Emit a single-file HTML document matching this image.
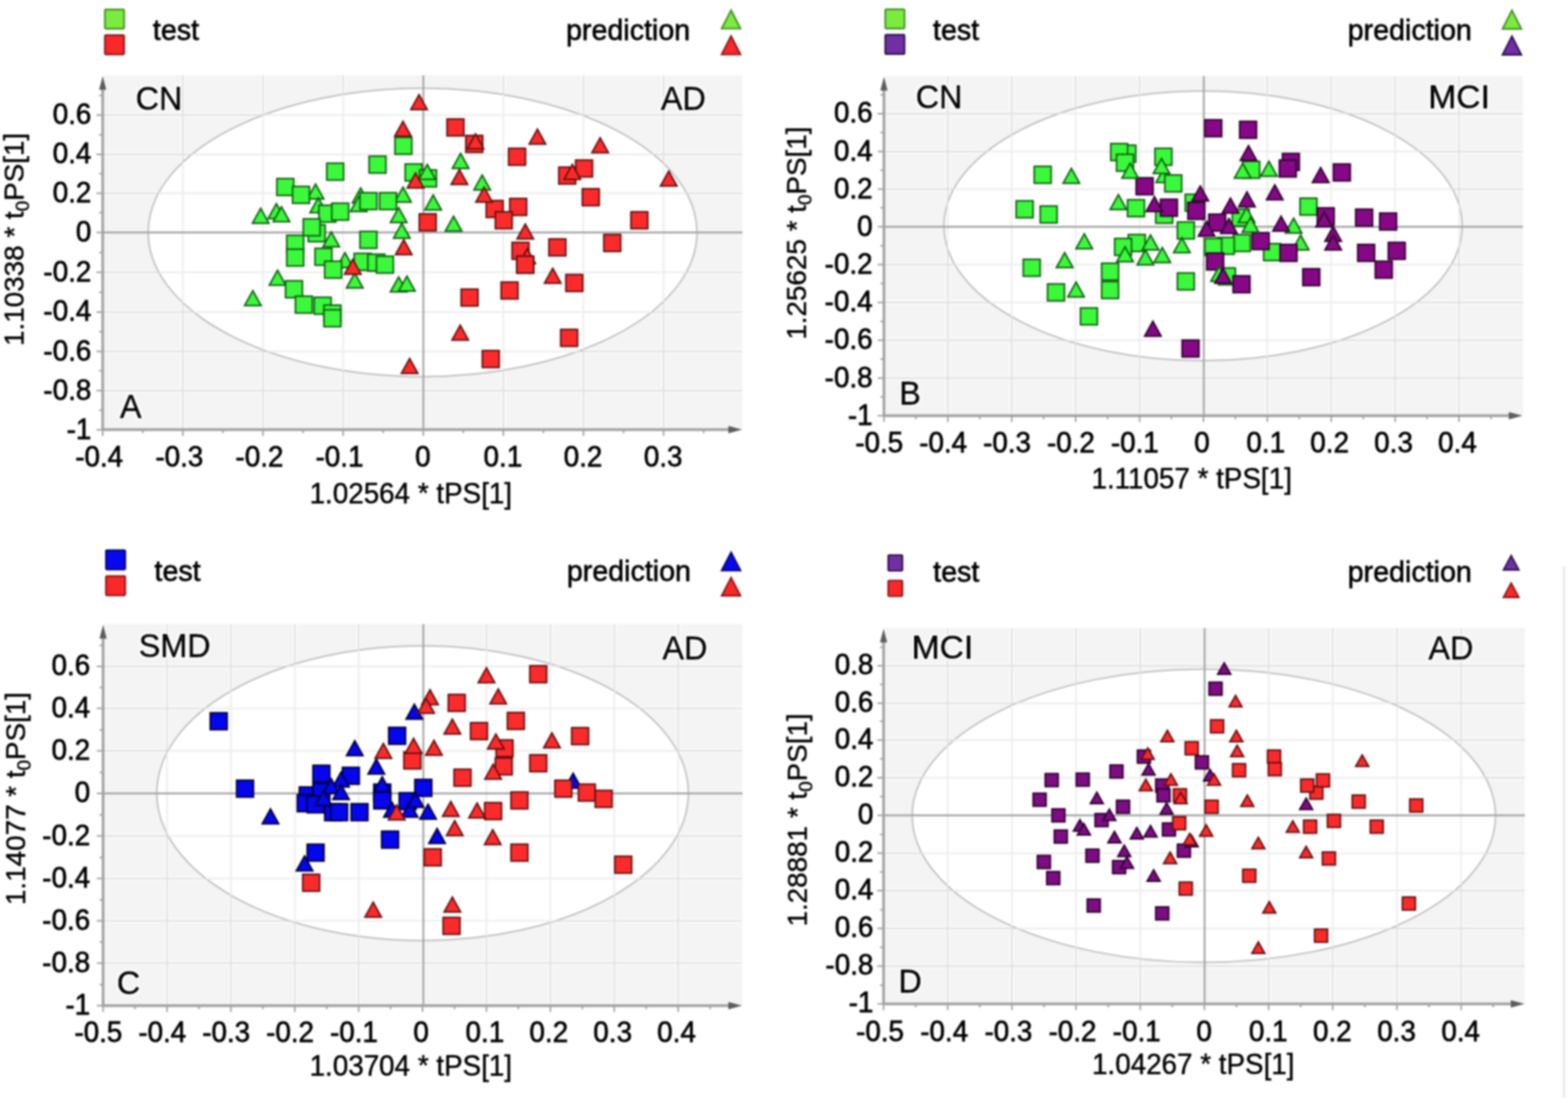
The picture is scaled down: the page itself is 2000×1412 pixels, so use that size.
<!DOCTYPE html>
<html lang="en"><head><meta charset="utf-8"><title>OPLS-DA score plots</title>
<style>html,body{margin:0;padding:0;background:#fff;}body{width:2000px;height:1412px;overflow:hidden;}svg{display:block;font-family:"Liberation Sans", sans-serif;filter:blur(0.8px);}</style></head><body>
<svg width="2000" height="1412" viewBox="0 0 2000 1412">
<defs><filter id="halo" x="-15%" y="-15%" width="130%" height="130%"><feMorphology in="SourceAlpha" operator="dilate" radius="2.4" result="d"/><feFlood flood-color="#fff" flood-opacity="0.92"/><feComposite in2="d" operator="in" result="h"/><feMerge><feMergeNode in="h"/><feMergeNode in="SourceGraphic"/></feMerge></filter></defs>
<rect width="2000" height="1412" fill="#fff"/>
<g id="panelA">
<rect x="131" y="96" width="816" height="452" fill="#f4f4f4"/>
<path d="M233.2,96V548M335.4,96V548M437.6,96V548M642.0,96V548M744.2,96V548M846.4,96V548M131,146.8H947M131,197.0H947M131,246.5H947M131,347.3H947M131,398.0H947M131,448.2H947M131,498.2H947" stroke="#ffffff" stroke-width="6" fill="none" opacity="0.6"/>
<path d="M233.2,96V548M335.4,96V548M437.6,96V548M642.0,96V548M744.2,96V548M846.4,96V548M131,146.8H947M131,197.0H947M131,246.5H947M131,347.3H947M131,398.0H947M131,448.2H947M131,498.2H947" stroke="#e3e3e3" stroke-width="2.4" fill="none"/>
<clipPath id="clipA"><ellipse cx="539" cy="296.5" rx="350" ry="184"/></clipPath>
<ellipse cx="539" cy="296.5" rx="350" ry="184" fill="#ffffff" stroke="#c0c0c0" stroke-width="2"/>
<path d="M233.2,96V548M335.4,96V548M437.6,96V548M642.0,96V548M744.2,96V548M846.4,96V548M131,146.8H947M131,197.0H947M131,246.5H947M131,347.3H947M131,398.0H947M131,448.2H947M131,498.2H947" stroke="#efefef" stroke-width="2.4" fill="none" clip-path="url(#clipA)"/>
<path d="M540,96V548M131,296.5H947" stroke="#a6a6a6" stroke-width="2.4" fill="none"/>
<path d="M131,110V548H933" stroke="#a2a2a2" stroke-width="3.4" fill="none"/>
<polygon points="131,97 135.6,114.5 126.4,114.5" fill="#5c5c5c"/>
<polygon points="946.5,548 929,543.2 929,552.8" fill="#5c5c5c"/>
<path d="M131.0,548v8M182.1,548v4.5M233.2,548v8M284.3,548v4.5M335.4,548v8M386.5,548v4.5M437.6,548v8M488.7,548v4.5M539.8,548v8M590.9,548v4.5M642.0,548v8M693.1,548v4.5M744.2,548v8M795.3,548v4.5M846.4,548v8M897.5,548v4.5M131,146.8h-8M131,121.7h-4.5M131,197.0h-8M131,171.9h-4.5M131,246.5h-8M131,221.4h-4.5M131,296.4h-8M131,271.3h-4.5M131,347.3h-8M131,322.2h-4.5M131,398.0h-8M131,372.9h-4.5M131,448.2h-8M131,423.1h-4.5M131,498.2h-8M131,473.1h-4.5M131,548.3h-8M131,523.2h-4.5" stroke="#a2a2a2" stroke-width="2" fill="none"/>
<text transform="translate(126.5,594.5) scale(0.972,1)" font-size="36.5" text-anchor="middle" fill="#000" stroke="#000" stroke-width="0.8" >-0.4</text>
<text transform="translate(228.7,594.5) scale(0.972,1)" font-size="36.5" text-anchor="middle" fill="#000" stroke="#000" stroke-width="0.8" >-0.3</text>
<text transform="translate(330.9,594.5) scale(0.972,1)" font-size="36.5" text-anchor="middle" fill="#000" stroke="#000" stroke-width="0.8" >-0.2</text>
<text transform="translate(433.1,594.5) scale(0.972,1)" font-size="36.5" text-anchor="middle" fill="#000" stroke="#000" stroke-width="0.8" >-0.1</text>
<text transform="translate(539.3,594.5) scale(0.972,1)" font-size="36.5" text-anchor="middle" fill="#000" stroke="#000" stroke-width="0.8" >0</text>
<text transform="translate(641.5,594.5) scale(0.972,1)" font-size="36.5" text-anchor="middle" fill="#000" stroke="#000" stroke-width="0.8" >0.1</text>
<text transform="translate(743.7,594.5) scale(0.972,1)" font-size="36.5" text-anchor="middle" fill="#000" stroke="#000" stroke-width="0.8" >0.2</text>
<text transform="translate(845.9,594.5) scale(0.972,1)" font-size="36.5" text-anchor="middle" fill="#000" stroke="#000" stroke-width="0.8" >0.3</text>
<text transform="translate(116.5,158.1) scale(0.972,1)" font-size="36.5" text-anchor="end" fill="#000" stroke="#000" stroke-width="0.8" >0.6</text>
<text transform="translate(116.5,208.3) scale(0.972,1)" font-size="36.5" text-anchor="end" fill="#000" stroke="#000" stroke-width="0.8" >0.4</text>
<text transform="translate(116.5,257.8) scale(0.972,1)" font-size="36.5" text-anchor="end" fill="#000" stroke="#000" stroke-width="0.8" >0.2</text>
<text transform="translate(116.5,307.7) scale(0.972,1)" font-size="36.5" text-anchor="end" fill="#000" stroke="#000" stroke-width="0.8" >0</text>
<text transform="translate(116.5,358.6) scale(0.972,1)" font-size="36.5" text-anchor="end" fill="#000" stroke="#000" stroke-width="0.8" >-0.2</text>
<text transform="translate(116.5,409.3) scale(0.972,1)" font-size="36.5" text-anchor="end" fill="#000" stroke="#000" stroke-width="0.8" >-0.4</text>
<text transform="translate(116.5,459.5) scale(0.972,1)" font-size="36.5" text-anchor="end" fill="#000" stroke="#000" stroke-width="0.8" >-0.6</text>
<text transform="translate(116.5,509.5) scale(0.972,1)" font-size="36.5" text-anchor="end" fill="#000" stroke="#000" stroke-width="0.8" >-0.8</text>
<text transform="translate(116.5,559.6) scale(0.972,1)" font-size="36.5" text-anchor="end" fill="#000" stroke="#000" stroke-width="0.8" >-1</text>
<text transform="translate(524.0,642.0) scale(0.985,1)" font-size="36" text-anchor="middle" fill="#000" stroke="#000" stroke-width="0.5" >1.02564 * tPS[1]</text>
<text transform="translate(30.3,305.3) rotate(-90) scale(1.0,1)" font-size="35.5" text-anchor="middle" fill="#000" stroke="#000" stroke-width="0.5">1.10338 * t<tspan font-size="24" dy="7">0</tspan><tspan dy="-7">PS[1]</tspan></text>
<text transform="translate(173.0,140.0) scale(0.965,1)" font-size="42.7" text-anchor="start" fill="#000" stroke="#000" stroke-width="1.0" filter="url(#halo)">CN</text>
<text transform="translate(843.0,140.0) scale(0.965,1)" font-size="42.7" text-anchor="start" fill="#000" stroke="#000" stroke-width="1.0" filter="url(#halo)">AD</text>
<text transform="translate(153.0,533.0) scale(0.965,1)" font-size="42.7" text-anchor="start" fill="#000" stroke="#000" stroke-width="1.0" filter="url(#halo)">A</text>
<polygon points="587.5,195.8 598.0,214.8 577.0,214.8" fill="#3bf83b" stroke="#0e5c0e" stroke-width="2.0" stroke-linejoin="miter"/>
<polygon points="615.0,223.3 625.5,242.3 604.5,242.3" fill="#3bf83b" stroke="#0e5c0e" stroke-width="2.0" stroke-linejoin="miter"/>
<polygon points="402.5,234.8 413.0,253.8 392.0,253.8" fill="#3bf83b" stroke="#0e5c0e" stroke-width="2.0" stroke-linejoin="miter"/>
<polygon points="514.0,238.8 524.5,257.8 503.5,257.8" fill="#3bf83b" stroke="#0e5c0e" stroke-width="2.0" stroke-linejoin="miter"/>
<polygon points="460.0,239.8 470.5,258.8 449.5,258.8" fill="#3bf83b" stroke="#0e5c0e" stroke-width="2.0" stroke-linejoin="miter"/>
<polygon points="552.5,248.8 563.0,267.8 542.0,267.8" fill="#3bf83b" stroke="#0e5c0e" stroke-width="2.0" stroke-linejoin="miter"/>
<polygon points="406.0,252.3 416.5,271.3 395.5,271.3" fill="#3bf83b" stroke="#0e5c0e" stroke-width="2.0" stroke-linejoin="miter"/>
<polygon points="457.5,250.8 468.0,269.8 447.0,269.8" fill="#3bf83b" stroke="#0e5c0e" stroke-width="2.0" stroke-linejoin="miter"/>
<polygon points="352.5,259.8 363.0,278.8 342.0,278.8" fill="#3bf83b" stroke="#0e5c0e" stroke-width="2.0" stroke-linejoin="miter"/>
<polygon points="359.0,263.8 369.5,282.8 348.5,282.8" fill="#3bf83b" stroke="#0e5c0e" stroke-width="2.0" stroke-linejoin="miter"/>
<polygon points="332.5,265.8 343.0,284.8 322.0,284.8" fill="#3bf83b" stroke="#0e5c0e" stroke-width="2.0" stroke-linejoin="miter"/>
<polygon points="508.5,264.8 519.0,283.8 498.0,283.8" fill="#3bf83b" stroke="#0e5c0e" stroke-width="2.0" stroke-linejoin="miter"/>
<polygon points="578.5,275.8 589.0,294.8 568.0,294.8" fill="#3bf83b" stroke="#0e5c0e" stroke-width="2.0" stroke-linejoin="miter"/>
<polygon points="512.5,284.8 523.0,303.8 502.0,303.8" fill="#3bf83b" stroke="#0e5c0e" stroke-width="2.0" stroke-linejoin="miter"/>
<polygon points="422.5,295.8 433.0,314.8 412.0,314.8" fill="#3bf83b" stroke="#0e5c0e" stroke-width="2.0" stroke-linejoin="miter"/>
<polygon points="440.0,322.3 450.5,341.3 429.5,341.3" fill="#3bf83b" stroke="#0e5c0e" stroke-width="2.0" stroke-linejoin="miter"/>
<polygon points="354.0,344.8 364.5,363.8 343.5,363.8" fill="#3bf83b" stroke="#0e5c0e" stroke-width="2.0" stroke-linejoin="miter"/>
<polygon points="452.5,348.3 463.0,367.3 442.0,367.3" fill="#3bf83b" stroke="#0e5c0e" stroke-width="2.0" stroke-linejoin="miter"/>
<polygon points="508.5,353.3 519.0,372.3 498.0,372.3" fill="#3bf83b" stroke="#0e5c0e" stroke-width="2.0" stroke-linejoin="miter"/>
<polygon points="519.0,352.3 529.5,371.3 508.5,371.3" fill="#3bf83b" stroke="#0e5c0e" stroke-width="2.0" stroke-linejoin="miter"/>
<polygon points="322.5,370.8 333.0,389.8 312.0,389.8" fill="#3bf83b" stroke="#0e5c0e" stroke-width="2.0" stroke-linejoin="miter"/>
<rect x="503.8" y="175.2" width="21.5" height="21.5" rx="0" fill="#3bf83b" stroke="#0e5c0e" stroke-width="2.0"/>
<rect x="470.8" y="199.2" width="21.5" height="21.5" rx="0" fill="#3bf83b" stroke="#0e5c0e" stroke-width="2.0"/>
<rect x="416.8" y="208.2" width="21.5" height="21.5" rx="0" fill="#3bf83b" stroke="#0e5c0e" stroke-width="2.0"/>
<rect x="516.8" y="209.2" width="21.5" height="21.5" rx="0" fill="#3bf83b" stroke="#0e5c0e" stroke-width="2.0"/>
<rect x="535.2" y="216.8" width="21.5" height="21.5" rx="0" fill="#3bf83b" stroke="#0e5c0e" stroke-width="2.0"/>
<rect x="353.2" y="227.8" width="21.5" height="21.5" rx="0" fill="#3bf83b" stroke="#0e5c0e" stroke-width="2.0"/>
<rect x="373.2" y="237.8" width="21.5" height="21.5" rx="0" fill="#3bf83b" stroke="#0e5c0e" stroke-width="2.0"/>
<rect x="459.2" y="245.8" width="21.5" height="21.5" rx="0" fill="#3bf83b" stroke="#0e5c0e" stroke-width="2.0"/>
<rect x="484.2" y="245.8" width="21.5" height="21.5" rx="0" fill="#3bf83b" stroke="#0e5c0e" stroke-width="2.0"/>
<rect x="406.8" y="261.8" width="21.5" height="21.5" rx="0" fill="#3bf83b" stroke="#0e5c0e" stroke-width="2.0"/>
<rect x="423.2" y="259.2" width="21.5" height="21.5" rx="0" fill="#3bf83b" stroke="#0e5c0e" stroke-width="2.0"/>
<rect x="393.2" y="286.8" width="21.5" height="21.5" rx="0" fill="#3bf83b" stroke="#0e5c0e" stroke-width="2.0"/>
<rect x="386.8" y="279.2" width="21.5" height="21.5" rx="0" fill="#3bf83b" stroke="#0e5c0e" stroke-width="2.0"/>
<rect x="459.2" y="295.2" width="21.5" height="21.5" rx="0" fill="#3bf83b" stroke="#0e5c0e" stroke-width="2.0"/>
<rect x="365.8" y="300.2" width="21.5" height="21.5" rx="0" fill="#3bf83b" stroke="#0e5c0e" stroke-width="2.0"/>
<rect x="365.8" y="317.8" width="21.5" height="21.5" rx="0" fill="#3bf83b" stroke="#0e5c0e" stroke-width="2.0"/>
<rect x="401.8" y="316.8" width="21.5" height="21.5" rx="0" fill="#3bf83b" stroke="#0e5c0e" stroke-width="2.0"/>
<rect x="414.2" y="333.2" width="21.5" height="21.5" rx="0" fill="#3bf83b" stroke="#0e5c0e" stroke-width="2.0"/>
<rect x="451.8" y="323.2" width="21.5" height="21.5" rx="0" fill="#3bf83b" stroke="#0e5c0e" stroke-width="2.0"/>
<rect x="469.2" y="324.2" width="21.5" height="21.5" rx="0" fill="#3bf83b" stroke="#0e5c0e" stroke-width="2.0"/>
<rect x="480.2" y="326.8" width="21.5" height="21.5" rx="0" fill="#3bf83b" stroke="#0e5c0e" stroke-width="2.0"/>
<rect x="364.2" y="358.2" width="21.5" height="21.5" rx="0" fill="#3bf83b" stroke="#0e5c0e" stroke-width="2.0"/>
<rect x="376.8" y="377.8" width="21.5" height="21.5" rx="0" fill="#3bf83b" stroke="#0e5c0e" stroke-width="2.0"/>
<rect x="400.8" y="379.2" width="21.5" height="21.5" rx="0" fill="#3bf83b" stroke="#0e5c0e" stroke-width="2.0"/>
<rect x="413.2" y="389.2" width="21.5" height="21.5" rx="0" fill="#3bf83b" stroke="#0e5c0e" stroke-width="2.0"/>
<rect x="413.2" y="395.2" width="21.5" height="21.5" rx="0" fill="#3bf83b" stroke="#0e5c0e" stroke-width="2.0"/>
<rect x="570.2" y="151.8" width="21.5" height="21.5" rx="0" fill="#fb2b2b" stroke="#620e0e" stroke-width="2.0"/>
<rect x="594.2" y="172.8" width="21.5" height="21.5" rx="0" fill="#fb2b2b" stroke="#620e0e" stroke-width="2.0"/>
<rect x="648.8" y="189.2" width="21.5" height="21.5" rx="0" fill="#fb2b2b" stroke="#620e0e" stroke-width="2.0"/>
<rect x="734.2" y="204.2" width="21.5" height="21.5" rx="0" fill="#fb2b2b" stroke="#620e0e" stroke-width="2.0"/>
<rect x="712.8" y="213.2" width="21.5" height="21.5" rx="0" fill="#fb2b2b" stroke="#620e0e" stroke-width="2.0"/>
<rect x="742.8" y="240.8" width="21.5" height="21.5" rx="0" fill="#fb2b2b" stroke="#620e0e" stroke-width="2.0"/>
<rect x="650.2" y="253.2" width="21.5" height="21.5" rx="0" fill="#fb2b2b" stroke="#620e0e" stroke-width="2.0"/>
<rect x="620.2" y="255.8" width="21.5" height="21.5" rx="0" fill="#fb2b2b" stroke="#620e0e" stroke-width="2.0"/>
<rect x="631.8" y="270.2" width="21.5" height="21.5" rx="0" fill="#fb2b2b" stroke="#620e0e" stroke-width="2.0"/>
<rect x="534.8" y="272.8" width="21.5" height="21.5" rx="0" fill="#fb2b2b" stroke="#620e0e" stroke-width="2.0"/>
<rect x="804.8" y="270.2" width="21.5" height="21.5" rx="0" fill="#fb2b2b" stroke="#620e0e" stroke-width="2.0"/>
<rect x="770.2" y="299.2" width="21.5" height="21.5" rx="0" fill="#fb2b2b" stroke="#620e0e" stroke-width="2.0"/>
<rect x="700.2" y="304.8" width="21.5" height="21.5" rx="0" fill="#fb2b2b" stroke="#620e0e" stroke-width="2.0"/>
<rect x="653.2" y="309.2" width="21.5" height="21.5" rx="0" fill="#fb2b2b" stroke="#620e0e" stroke-width="2.0"/>
<rect x="659.2" y="326.8" width="21.5" height="21.5" rx="0" fill="#fb2b2b" stroke="#620e0e" stroke-width="2.0"/>
<rect x="721.8" y="350.2" width="21.5" height="21.5" rx="0" fill="#fb2b2b" stroke="#620e0e" stroke-width="2.0"/>
<rect x="639.2" y="359.8" width="21.5" height="21.5" rx="0" fill="#fb2b2b" stroke="#620e0e" stroke-width="2.0"/>
<rect x="588.2" y="368.8" width="21.5" height="21.5" rx="0" fill="#fb2b2b" stroke="#620e0e" stroke-width="2.0"/>
<rect x="715.2" y="420.2" width="21.5" height="21.5" rx="0" fill="#fb2b2b" stroke="#620e0e" stroke-width="2.0"/>
<rect x="615.2" y="447.2" width="21.5" height="21.5" rx="0" fill="#fb2b2b" stroke="#620e0e" stroke-width="2.0"/>
<polygon points="545.0,209.8 555.5,228.8 534.5,228.8" fill="#3bf83b" stroke="#0e5c0e" stroke-width="2.0" stroke-linejoin="miter"/>
<polygon points="534.5,120.8 545.0,139.8 524.0,139.8" fill="#fb2b2b" stroke="#620e0e" stroke-width="2.0" stroke-linejoin="miter"/>
<polygon points="514.0,154.8 524.5,173.8 503.5,173.8" fill="#fb2b2b" stroke="#620e0e" stroke-width="2.0" stroke-linejoin="miter"/>
<polygon points="685.5,164.8 696.0,183.8 675.0,183.8" fill="#fb2b2b" stroke="#620e0e" stroke-width="2.0" stroke-linejoin="miter"/>
<polygon points="765.5,175.8 776.0,194.8 755.0,194.8" fill="#fb2b2b" stroke="#620e0e" stroke-width="2.0" stroke-linejoin="miter"/>
<polygon points="606.5,170.8 617.0,189.8 596.0,189.8" fill="#fb2b2b" stroke="#620e0e" stroke-width="2.0" stroke-linejoin="miter"/>
<polygon points="530.0,220.8 540.5,239.8 519.5,239.8" fill="#fb2b2b" stroke="#620e0e" stroke-width="2.0" stroke-linejoin="miter"/>
<polygon points="586.0,216.3 596.5,235.3 575.5,235.3" fill="#fb2b2b" stroke="#620e0e" stroke-width="2.0" stroke-linejoin="miter"/>
<polygon points="730.0,209.8 740.5,228.8 719.5,228.8" fill="#fb2b2b" stroke="#620e0e" stroke-width="2.0" stroke-linejoin="miter"/>
<polygon points="853.0,218.3 863.5,237.3 842.5,237.3" fill="#fb2b2b" stroke="#620e0e" stroke-width="2.0" stroke-linejoin="miter"/>
<polygon points="617.5,238.8 628.0,257.8 607.0,257.8" fill="#fb2b2b" stroke="#620e0e" stroke-width="2.0" stroke-linejoin="miter"/>
<polygon points="670.0,285.8 680.5,304.8 659.5,304.8" fill="#fb2b2b" stroke="#620e0e" stroke-width="2.0" stroke-linejoin="miter"/>
<polygon points="515.0,305.8 525.5,324.8 504.5,324.8" fill="#fb2b2b" stroke="#620e0e" stroke-width="2.0" stroke-linejoin="miter"/>
<polygon points="672.5,317.3 683.0,336.3 662.0,336.3" fill="#fb2b2b" stroke="#620e0e" stroke-width="2.0" stroke-linejoin="miter"/>
<polygon points="450.0,330.8 460.5,349.8 439.5,349.8" fill="#fb2b2b" stroke="#620e0e" stroke-width="2.0" stroke-linejoin="miter"/>
<polygon points="705.0,342.3 715.5,361.3 694.5,361.3" fill="#fb2b2b" stroke="#620e0e" stroke-width="2.0" stroke-linejoin="miter"/>
<polygon points="587.0,414.8 597.5,433.8 576.5,433.8" fill="#fb2b2b" stroke="#620e0e" stroke-width="2.0" stroke-linejoin="miter"/>
<polygon points="522.5,457.3 533.0,476.3 512.0,476.3" fill="#fb2b2b" stroke="#620e0e" stroke-width="2.0" stroke-linejoin="miter"/>
<rect x="659.2" y="326.8" width="21.5" height="21.5" rx="0" fill="#fb2b2b" stroke="#620e0e" stroke-width="2.0"/>
<rect x="133.8" y="12.1" width="24.5" height="24.5" rx="1.0" fill="#7ceb40" stroke="#438f26" stroke-width="2.2"/>
<rect x="133.8" y="44.8" width="24.5" height="24.5" rx="1.0" fill="#fa2828" stroke="#8e1616" stroke-width="2.2"/>
<polygon points="932.5,13.1 944.5,36.5 920.5,36.5" fill="#7ceb40" stroke="#438f26" stroke-width="2.2" stroke-linejoin="miter"/>
<polygon points="932.5,46.0 944.5,69.5 920.5,69.5" fill="#fa2828" stroke="#8e1616" stroke-width="2.2" stroke-linejoin="miter"/>
<text x="195.0" y="50.5" font-size="36.5" text-anchor="start" fill="#000" stroke="#000" stroke-width="0.8" >test</text>
<text x="722.0" y="50.5" font-size="36.5" text-anchor="start" fill="#000" stroke="#000" stroke-width="0.8" >prediction</text>
</g>
<g id="panelB">
<rect x="1127.5" y="97" width="815.0" height="433.29999999999995" fill="#f4f4f4"/>
<path d="M1209.0,97V530.3M1290.5,97V530.3M1372.0,97V530.3M1453.5,97V530.3M1616.5,97V530.3M1698.0,97V530.3M1779.5,97V530.3M1861.0,97V530.3M1127.5,145.0H1942.5M1127.5,193.2H1942.5M1127.5,241.2H1942.5M1127.5,337.5H1942.5M1127.5,385.7H1942.5M1127.5,434.0H1942.5M1127.5,482.2H1942.5" stroke="#ffffff" stroke-width="6" fill="none" opacity="0.6"/>
<path d="M1209.0,97V530.3M1290.5,97V530.3M1372.0,97V530.3M1453.5,97V530.3M1616.5,97V530.3M1698.0,97V530.3M1779.5,97V530.3M1861.0,97V530.3M1127.5,145.0H1942.5M1127.5,193.2H1942.5M1127.5,241.2H1942.5M1127.5,337.5H1942.5M1127.5,385.7H1942.5M1127.5,434.0H1942.5M1127.5,482.2H1942.5" stroke="#e3e3e3" stroke-width="2.4" fill="none"/>
<clipPath id="clipB"><ellipse cx="1534.5" cy="288" rx="330.5" ry="172"/></clipPath>
<ellipse cx="1534.5" cy="288" rx="330.5" ry="172" fill="#ffffff" stroke="#c0c0c0" stroke-width="2"/>
<path d="M1209.0,97V530.3M1290.5,97V530.3M1372.0,97V530.3M1453.5,97V530.3M1616.5,97V530.3M1698.0,97V530.3M1779.5,97V530.3M1861.0,97V530.3M1127.5,145.0H1942.5M1127.5,193.2H1942.5M1127.5,241.2H1942.5M1127.5,337.5H1942.5M1127.5,385.7H1942.5M1127.5,434.0H1942.5M1127.5,482.2H1942.5" stroke="#efefef" stroke-width="2.4" fill="none" clip-path="url(#clipB)"/>
<path d="M1535.5,97V530.3M1127.5,289.2H1942.5" stroke="#a6a6a6" stroke-width="2.4" fill="none"/>
<path d="M1127.5,111V530.3H1928.5" stroke="#a2a2a2" stroke-width="3.4" fill="none"/>
<polygon points="1127.5,98 1132.1,115.5 1122.9,115.5" fill="#5c5c5c"/>
<polygon points="1942.0,530.3 1924.5,525.5 1924.5,535.0999999999999" fill="#5c5c5c"/>
<path d="M1127.5,530.3v8M1168.2,530.3v4.5M1209.0,530.3v8M1249.8,530.3v4.5M1290.5,530.3v8M1331.2,530.3v4.5M1372.0,530.3v8M1412.8,530.3v4.5M1453.5,530.3v8M1494.2,530.3v4.5M1535.0,530.3v8M1575.8,530.3v4.5M1616.5,530.3v8M1657.2,530.3v4.5M1698.0,530.3v8M1738.8,530.3v4.5M1779.5,530.3v8M1820.2,530.3v4.5M1861.0,530.3v8M1901.8,530.3v4.5M1127.5,145.0h-8M1127.5,120.9h-4.5M1127.5,193.2h-8M1127.5,169.1h-4.5M1127.5,241.2h-8M1127.5,217.1h-4.5M1127.5,289.2h-8M1127.5,265.1h-4.5M1127.5,337.5h-8M1127.5,313.4h-4.5M1127.5,385.7h-8M1127.5,361.6h-4.5M1127.5,434.0h-8M1127.5,409.9h-4.5M1127.5,482.2h-8M1127.5,458.1h-4.5M1127.5,530.3h-8M1127.5,506.2h-4.5" stroke="#a2a2a2" stroke-width="2" fill="none"/>
<text transform="translate(1121.5,576.5) scale(0.972,1)" font-size="36.5" text-anchor="middle" fill="#000" stroke="#000" stroke-width="0.8" >-0.5</text>
<text transform="translate(1203.0,576.5) scale(0.972,1)" font-size="36.5" text-anchor="middle" fill="#000" stroke="#000" stroke-width="0.8" >-0.4</text>
<text transform="translate(1284.5,576.5) scale(0.972,1)" font-size="36.5" text-anchor="middle" fill="#000" stroke="#000" stroke-width="0.8" >-0.3</text>
<text transform="translate(1366.0,576.5) scale(0.972,1)" font-size="36.5" text-anchor="middle" fill="#000" stroke="#000" stroke-width="0.8" >-0.2</text>
<text transform="translate(1447.5,576.5) scale(0.972,1)" font-size="36.5" text-anchor="middle" fill="#000" stroke="#000" stroke-width="0.8" >-0.1</text>
<text transform="translate(1533.0,576.5) scale(0.972,1)" font-size="36.5" text-anchor="middle" fill="#000" stroke="#000" stroke-width="0.8" >0</text>
<text transform="translate(1614.5,576.5) scale(0.972,1)" font-size="36.5" text-anchor="middle" fill="#000" stroke="#000" stroke-width="0.8" >0.1</text>
<text transform="translate(1696.0,576.5) scale(0.972,1)" font-size="36.5" text-anchor="middle" fill="#000" stroke="#000" stroke-width="0.8" >0.2</text>
<text transform="translate(1777.5,576.5) scale(0.972,1)" font-size="36.5" text-anchor="middle" fill="#000" stroke="#000" stroke-width="0.8" >0.3</text>
<text transform="translate(1859.0,576.5) scale(0.972,1)" font-size="36.5" text-anchor="middle" fill="#000" stroke="#000" stroke-width="0.8" >0.4</text>
<text transform="translate(1113.0,156.3) scale(0.972,1)" font-size="36.5" text-anchor="end" fill="#000" stroke="#000" stroke-width="0.8" >0.6</text>
<text transform="translate(1113.0,204.5) scale(0.972,1)" font-size="36.5" text-anchor="end" fill="#000" stroke="#000" stroke-width="0.8" >0.4</text>
<text transform="translate(1113.0,252.5) scale(0.972,1)" font-size="36.5" text-anchor="end" fill="#000" stroke="#000" stroke-width="0.8" >0.2</text>
<text transform="translate(1113.0,300.5) scale(0.972,1)" font-size="36.5" text-anchor="end" fill="#000" stroke="#000" stroke-width="0.8" >0</text>
<text transform="translate(1113.0,348.8) scale(0.972,1)" font-size="36.5" text-anchor="end" fill="#000" stroke="#000" stroke-width="0.8" >-0.2</text>
<text transform="translate(1113.0,397.0) scale(0.972,1)" font-size="36.5" text-anchor="end" fill="#000" stroke="#000" stroke-width="0.8" >-0.4</text>
<text transform="translate(1113.0,445.3) scale(0.972,1)" font-size="36.5" text-anchor="end" fill="#000" stroke="#000" stroke-width="0.8" >-0.6</text>
<text transform="translate(1113.0,493.5) scale(0.972,1)" font-size="36.5" text-anchor="end" fill="#000" stroke="#000" stroke-width="0.8" >-0.8</text>
<text transform="translate(1113.0,541.6) scale(0.972,1)" font-size="36.5" text-anchor="end" fill="#000" stroke="#000" stroke-width="0.8" >-1</text>
<text transform="translate(1520.0,623.0) scale(0.985,1)" font-size="36" text-anchor="middle" fill="#000" stroke="#000" stroke-width="0.5" >1.11057 * tPS[1]</text>
<text transform="translate(1028.2,297.3) rotate(-90) scale(1.0,1)" font-size="35.5" text-anchor="middle" fill="#000" stroke="#000" stroke-width="0.5">1.25625 * t<tspan font-size="24" dy="7">0</tspan><tspan dy="-7">PS[1]</tspan></text>
<text transform="translate(1168.0,138.0) scale(0.965,1)" font-size="42.7" text-anchor="start" fill="#000" stroke="#000" stroke-width="1.0" filter="url(#halo)">CN</text>
<text x="1822.0" y="138.0" font-size="42.7" text-anchor="start" fill="#000" stroke="#000" stroke-width="1.0" filter="url(#halo)">MCI</text>
<text transform="translate(1147.0,516.0) scale(0.965,1)" font-size="42.7" text-anchor="start" fill="#000" stroke="#000" stroke-width="1.0" filter="url(#halo)">B</text>
<polygon points="1659.0,299.8 1669.5,318.8 1648.5,318.8" fill="#3bf83b" stroke="#0e5c0e" stroke-width="2.0" stroke-linejoin="miter"/>
<polygon points="1547.5,305.8 1558.0,324.8 1537.0,324.8" fill="#3bf83b" stroke="#0e5c0e" stroke-width="2.0" stroke-linejoin="miter"/>
<polygon points="1485.0,213.8 1495.5,232.8 1474.5,232.8" fill="#3bf83b" stroke="#0e5c0e" stroke-width="2.0" stroke-linejoin="miter"/>
<rect x="1427.2" y="185.2" width="21.5" height="21.5" rx="0" fill="#3bf83b" stroke="#0e5c0e" stroke-width="2.0"/>
<rect x="1416.8" y="183.2" width="21.5" height="21.5" rx="0" fill="#3bf83b" stroke="#0e5c0e" stroke-width="2.0"/>
<rect x="1424.2" y="196.8" width="21.5" height="21.5" rx="0" fill="#3bf83b" stroke="#0e5c0e" stroke-width="2.0"/>
<rect x="1473.2" y="189.2" width="21.5" height="21.5" rx="0" fill="#3bf83b" stroke="#0e5c0e" stroke-width="2.0"/>
<rect x="1585.2" y="205.8" width="21.5" height="21.5" rx="0" fill="#3bf83b" stroke="#0e5c0e" stroke-width="2.0"/>
<rect x="1319.2" y="212.2" width="21.5" height="21.5" rx="0" fill="#3bf83b" stroke="#0e5c0e" stroke-width="2.0"/>
<rect x="1485.8" y="223.2" width="21.5" height="21.5" rx="0" fill="#3bf83b" stroke="#0e5c0e" stroke-width="2.0"/>
<rect x="1296.2" y="256.2" width="21.5" height="21.5" rx="0" fill="#3bf83b" stroke="#0e5c0e" stroke-width="2.0"/>
<rect x="1326.8" y="262.8" width="21.5" height="21.5" rx="0" fill="#3bf83b" stroke="#0e5c0e" stroke-width="2.0"/>
<rect x="1438.2" y="254.8" width="21.5" height="21.5" rx="0" fill="#3bf83b" stroke="#0e5c0e" stroke-width="2.0"/>
<rect x="1658.2" y="252.8" width="21.5" height="21.5" rx="0" fill="#3bf83b" stroke="#0e5c0e" stroke-width="2.0"/>
<rect x="1474.2" y="263.2" width="21.5" height="21.5" rx="0" fill="#3bf83b" stroke="#0e5c0e" stroke-width="2.0"/>
<rect x="1501.8" y="283.2" width="21.5" height="21.5" rx="0" fill="#3bf83b" stroke="#0e5c0e" stroke-width="2.0"/>
<rect x="1511.8" y="247.8" width="21.5" height="21.5" rx="0" fill="#3bf83b" stroke="#0e5c0e" stroke-width="2.0"/>
<rect x="1439.2" y="299.2" width="21.5" height="21.5" rx="0" fill="#3bf83b" stroke="#0e5c0e" stroke-width="2.0"/>
<rect x="1421.8" y="304.2" width="21.5" height="21.5" rx="0" fill="#3bf83b" stroke="#0e5c0e" stroke-width="2.0"/>
<rect x="1573.2" y="299.2" width="21.5" height="21.5" rx="0" fill="#3bf83b" stroke="#0e5c0e" stroke-width="2.0"/>
<rect x="1552.8" y="302.8" width="21.5" height="21.5" rx="0" fill="#3bf83b" stroke="#0e5c0e" stroke-width="2.0"/>
<rect x="1536.8" y="304.2" width="21.5" height="21.5" rx="0" fill="#3bf83b" stroke="#0e5c0e" stroke-width="2.0"/>
<rect x="1611.8" y="310.8" width="21.5" height="21.5" rx="0" fill="#3bf83b" stroke="#0e5c0e" stroke-width="2.0"/>
<rect x="1305.2" y="330.8" width="21.5" height="21.5" rx="0" fill="#3bf83b" stroke="#0e5c0e" stroke-width="2.0"/>
<rect x="1405.2" y="335.8" width="21.5" height="21.5" rx="0" fill="#3bf83b" stroke="#0e5c0e" stroke-width="2.0"/>
<rect x="1405.2" y="359.2" width="21.5" height="21.5" rx="0" fill="#3bf83b" stroke="#0e5c0e" stroke-width="2.0"/>
<rect x="1501.8" y="348.2" width="21.5" height="21.5" rx="0" fill="#3bf83b" stroke="#0e5c0e" stroke-width="2.0"/>
<rect x="1336.2" y="362.2" width="21.5" height="21.5" rx="0" fill="#3bf83b" stroke="#0e5c0e" stroke-width="2.0"/>
<rect x="1378.2" y="392.8" width="21.5" height="21.5" rx="0" fill="#3bf83b" stroke="#0e5c0e" stroke-width="2.0"/>
<rect x="1554.2" y="341.8" width="21.5" height="21.5" rx="0" fill="#3bf83b" stroke="#0e5c0e" stroke-width="2.0"/>
<rect x="1571.8" y="266.8" width="21.5" height="21.5" rx="0" fill="#3bf83b" stroke="#0e5c0e" stroke-width="2.0"/>
<rect x="1536.8" y="152.8" width="21.5" height="21.5" rx="0" fill="#860886" stroke="#2c002c" stroke-width="2.0"/>
<rect x="1581.2" y="154.8" width="21.5" height="21.5" rx="0" fill="#860886" stroke="#2c002c" stroke-width="2.0"/>
<rect x="1635.8" y="195.8" width="21.5" height="21.5" rx="0" fill="#860886" stroke="#2c002c" stroke-width="2.0"/>
<rect x="1631.8" y="204.2" width="21.5" height="21.5" rx="0" fill="#860886" stroke="#2c002c" stroke-width="2.0"/>
<rect x="1700.8" y="209.2" width="21.5" height="21.5" rx="0" fill="#860886" stroke="#2c002c" stroke-width="2.0"/>
<rect x="1449.2" y="226.8" width="21.5" height="21.5" rx="0" fill="#860886" stroke="#2c002c" stroke-width="2.0"/>
<rect x="1480.2" y="254.2" width="21.5" height="21.5" rx="0" fill="#860886" stroke="#2c002c" stroke-width="2.0"/>
<rect x="1515.2" y="258.2" width="21.5" height="21.5" rx="0" fill="#860886" stroke="#2c002c" stroke-width="2.0"/>
<rect x="1541.8" y="273.2" width="21.5" height="21.5" rx="0" fill="#860886" stroke="#2c002c" stroke-width="2.0"/>
<rect x="1680.2" y="265.2" width="21.5" height="21.5" rx="0" fill="#860886" stroke="#2c002c" stroke-width="2.0"/>
<rect x="1729.2" y="266.8" width="21.5" height="21.5" rx="0" fill="#860886" stroke="#2c002c" stroke-width="2.0"/>
<rect x="1759.8" y="271.8" width="21.5" height="21.5" rx="0" fill="#860886" stroke="#2c002c" stroke-width="2.0"/>
<rect x="1597.2" y="296.8" width="21.5" height="21.5" rx="0" fill="#860886" stroke="#2c002c" stroke-width="2.0"/>
<rect x="1632.8" y="311.8" width="21.5" height="21.5" rx="0" fill="#860886" stroke="#2c002c" stroke-width="2.0"/>
<rect x="1539.2" y="322.8" width="21.5" height="21.5" rx="0" fill="#860886" stroke="#2c002c" stroke-width="2.0"/>
<rect x="1731.8" y="311.8" width="21.5" height="21.5" rx="0" fill="#860886" stroke="#2c002c" stroke-width="2.0"/>
<rect x="1770.8" y="309.2" width="21.5" height="21.5" rx="0" fill="#860886" stroke="#2c002c" stroke-width="2.0"/>
<rect x="1754.2" y="333.2" width="21.5" height="21.5" rx="0" fill="#860886" stroke="#2c002c" stroke-width="2.0"/>
<rect x="1661.8" y="342.8" width="21.5" height="21.5" rx="0" fill="#860886" stroke="#2c002c" stroke-width="2.0"/>
<rect x="1572.8" y="351.8" width="21.5" height="21.5" rx="0" fill="#860886" stroke="#2c002c" stroke-width="2.0"/>
<rect x="1507.8" y="433.8" width="21.5" height="21.5" rx="0" fill="#860886" stroke="#2c002c" stroke-width="2.0"/>
<polygon points="1366.5,214.8 1377.0,233.8 1356.0,233.8" fill="#3bf83b" stroke="#0e5c0e" stroke-width="2.0" stroke-linejoin="miter"/>
<polygon points="1441.5,208.3 1452.0,227.3 1431.0,227.3" fill="#3bf83b" stroke="#0e5c0e" stroke-width="2.0" stroke-linejoin="miter"/>
<polygon points="1481.5,202.3 1492.0,221.3 1471.0,221.3" fill="#3bf83b" stroke="#0e5c0e" stroke-width="2.0" stroke-linejoin="miter"/>
<polygon points="1585.0,208.3 1595.5,227.3 1574.5,227.3" fill="#3bf83b" stroke="#0e5c0e" stroke-width="2.0" stroke-linejoin="miter"/>
<polygon points="1618.5,205.8 1629.0,224.8 1608.0,224.8" fill="#3bf83b" stroke="#0e5c0e" stroke-width="2.0" stroke-linejoin="miter"/>
<polygon points="1426.5,248.3 1437.0,267.3 1416.0,267.3" fill="#3bf83b" stroke="#0e5c0e" stroke-width="2.0" stroke-linejoin="miter"/>
<polygon points="1590.0,264.8 1600.5,283.8 1579.5,283.8" fill="#3bf83b" stroke="#0e5c0e" stroke-width="2.0" stroke-linejoin="miter"/>
<polygon points="1595.0,277.3 1605.5,296.3 1584.5,296.3" fill="#3bf83b" stroke="#0e5c0e" stroke-width="2.0" stroke-linejoin="miter"/>
<polygon points="1650.0,278.3 1660.5,297.3 1639.5,297.3" fill="#3bf83b" stroke="#0e5c0e" stroke-width="2.0" stroke-linejoin="miter"/>
<polygon points="1383.0,298.3 1393.5,317.3 1372.5,317.3" fill="#3bf83b" stroke="#0e5c0e" stroke-width="2.0" stroke-linejoin="miter"/>
<polygon points="1467.5,299.8 1478.0,318.8 1457.0,318.8" fill="#3bf83b" stroke="#0e5c0e" stroke-width="2.0" stroke-linejoin="miter"/>
<polygon points="1507.5,303.3 1518.0,322.3 1497.0,322.3" fill="#3bf83b" stroke="#0e5c0e" stroke-width="2.0" stroke-linejoin="miter"/>
<polygon points="1482.5,315.8 1493.0,334.8 1472.0,334.8" fill="#3bf83b" stroke="#0e5c0e" stroke-width="2.0" stroke-linejoin="miter"/>
<polygon points="1461.0,318.8 1471.5,337.8 1450.5,337.8" fill="#3bf83b" stroke="#0e5c0e" stroke-width="2.0" stroke-linejoin="miter"/>
<polygon points="1435.0,314.8 1445.5,333.8 1424.5,333.8" fill="#3bf83b" stroke="#0e5c0e" stroke-width="2.0" stroke-linejoin="miter"/>
<polygon points="1358.0,322.3 1368.5,341.3 1347.5,341.3" fill="#3bf83b" stroke="#0e5c0e" stroke-width="2.0" stroke-linejoin="miter"/>
<polygon points="1372.5,359.8 1383.0,378.8 1362.0,378.8" fill="#3bf83b" stroke="#0e5c0e" stroke-width="2.0" stroke-linejoin="miter"/>
<polygon points="1555.0,339.8 1565.5,358.8 1544.5,358.8" fill="#3bf83b" stroke="#0e5c0e" stroke-width="2.0" stroke-linejoin="miter"/>
<polygon points="1592.5,185.8 1603.0,204.8 1582.0,204.8" fill="#860886" stroke="#2c002c" stroke-width="2.0" stroke-linejoin="miter"/>
<polygon points="1684.5,213.8 1695.0,232.8 1674.0,232.8" fill="#860886" stroke="#2c002c" stroke-width="2.0" stroke-linejoin="miter"/>
<polygon points="1531.0,237.3 1541.5,256.3 1520.5,256.3" fill="#860886" stroke="#2c002c" stroke-width="2.0" stroke-linejoin="miter"/>
<polygon points="1626.0,235.8 1636.5,254.8 1615.5,254.8" fill="#860886" stroke="#2c002c" stroke-width="2.0" stroke-linejoin="miter"/>
<polygon points="1590.5,244.8 1601.0,263.8 1580.0,263.8" fill="#860886" stroke="#2c002c" stroke-width="2.0" stroke-linejoin="miter"/>
<polygon points="1472.5,250.8 1483.0,269.8 1462.0,269.8" fill="#860886" stroke="#2c002c" stroke-width="2.0" stroke-linejoin="miter"/>
<polygon points="1569.5,252.8 1580.0,271.8 1559.0,271.8" fill="#860886" stroke="#2c002c" stroke-width="2.0" stroke-linejoin="miter"/>
<polygon points="1689.0,270.3 1699.5,289.3 1678.5,289.3" fill="#860886" stroke="#2c002c" stroke-width="2.0" stroke-linejoin="miter"/>
<polygon points="1539.0,282.3 1549.5,301.3 1528.5,301.3" fill="#860886" stroke="#2c002c" stroke-width="2.0" stroke-linejoin="miter"/>
<polygon points="1567.5,278.8 1578.0,297.8 1557.0,297.8" fill="#860886" stroke="#2c002c" stroke-width="2.0" stroke-linejoin="miter"/>
<polygon points="1634.0,275.8 1644.5,294.8 1623.5,294.8" fill="#860886" stroke="#2c002c" stroke-width="2.0" stroke-linejoin="miter"/>
<polygon points="1700.5,288.8 1711.0,307.8 1690.0,307.8" fill="#860886" stroke="#2c002c" stroke-width="2.0" stroke-linejoin="miter"/>
<polygon points="1700.5,299.8 1711.0,318.8 1690.0,318.8" fill="#860886" stroke="#2c002c" stroke-width="2.0" stroke-linejoin="miter"/>
<polygon points="1560.0,342.3 1570.5,361.3 1549.5,361.3" fill="#860886" stroke="#2c002c" stroke-width="2.0" stroke-linejoin="miter"/>
<polygon points="1470.5,409.8 1481.0,428.8 1460.0,428.8" fill="#860886" stroke="#2c002c" stroke-width="2.0" stroke-linejoin="miter"/>
<rect x="1129.2" y="11.8" width="24.5" height="24.5" rx="1.0" fill="#7ceb40" stroke="#438f26" stroke-width="2.2"/>
<rect x="1129.2" y="44.4" width="24.5" height="24.5" rx="1.0" fill="#7030a4" stroke="#30104e" stroke-width="2.2"/>
<polygon points="1928.5,13.2 1940.5,36.8 1916.5,36.8" fill="#7ceb40" stroke="#438f26" stroke-width="2.2" stroke-linejoin="miter"/>
<polygon points="1928.5,46.2 1940.5,69.8 1916.5,69.8" fill="#7030a4" stroke="#30104e" stroke-width="2.2" stroke-linejoin="miter"/>
<text x="1190.0" y="50.5" font-size="36.5" text-anchor="start" fill="#000" stroke="#000" stroke-width="0.8" >test</text>
<text x="1719.0" y="50.5" font-size="36.5" text-anchor="start" fill="#000" stroke="#000" stroke-width="0.8" >prediction</text>
</g>
<g id="panelC">
<rect x="131.5" y="796" width="815.5" height="486.79999999999995" fill="#f4f4f4"/>
<path d="M213.0,796V1282.8M294.5,796V1282.8M376.0,796V1282.8M457.5,796V1282.8M620.5,796V1282.8M702.0,796V1282.8M783.5,796V1282.8M865.0,796V1282.8M131.5,850.0H947M131.5,903.6H947M131.5,957.8H947M131.5,1066.3H947M131.5,1120.6H947M131.5,1174.6H947M131.5,1228.4H947" stroke="#ffffff" stroke-width="6" fill="none" opacity="0.6"/>
<path d="M213.0,796V1282.8M294.5,796V1282.8M376.0,796V1282.8M457.5,796V1282.8M620.5,796V1282.8M702.0,796V1282.8M783.5,796V1282.8M865.0,796V1282.8M131.5,850.0H947M131.5,903.6H947M131.5,957.8H947M131.5,1066.3H947M131.5,1120.6H947M131.5,1174.6H947M131.5,1228.4H947" stroke="#e3e3e3" stroke-width="2.4" fill="none"/>
<clipPath id="clipC"><ellipse cx="539" cy="1011.7" rx="339" ry="188"/></clipPath>
<ellipse cx="539" cy="1011.7" rx="339" ry="188" fill="#ffffff" stroke="#c0c0c0" stroke-width="2"/>
<path d="M213.0,796V1282.8M294.5,796V1282.8M376.0,796V1282.8M457.5,796V1282.8M620.5,796V1282.8M702.0,796V1282.8M783.5,796V1282.8M865.0,796V1282.8M131.5,850.0H947M131.5,903.6H947M131.5,957.8H947M131.5,1066.3H947M131.5,1120.6H947M131.5,1174.6H947M131.5,1228.4H947" stroke="#efefef" stroke-width="2.4" fill="none" clip-path="url(#clipC)"/>
<path d="M540,796V1282.8M131.5,1012H947" stroke="#a6a6a6" stroke-width="2.4" fill="none"/>
<path d="M131.5,810V1282.8H933" stroke="#a2a2a2" stroke-width="3.4" fill="none"/>
<polygon points="131.5,797 136.1,814.5 126.9,814.5" fill="#5c5c5c"/>
<polygon points="946.5,1282.8 929,1278.0 929,1287.6" fill="#5c5c5c"/>
<path d="M131.5,1282.8v8M172.2,1282.8v4.5M213.0,1282.8v8M253.8,1282.8v4.5M294.5,1282.8v8M335.2,1282.8v4.5M376.0,1282.8v8M416.8,1282.8v4.5M457.5,1282.8v8M498.2,1282.8v4.5M539.0,1282.8v8M579.8,1282.8v4.5M620.5,1282.8v8M661.2,1282.8v4.5M702.0,1282.8v8M742.8,1282.8v4.5M783.5,1282.8v8M824.2,1282.8v4.5M865.0,1282.8v8M905.8,1282.8v4.5M131.5,850.0h-8M131.5,823.2h-4.5M131.5,903.6h-8M131.5,876.8h-4.5M131.5,957.8h-8M131.5,931.0h-4.5M131.5,1012.0h-8M131.5,985.2h-4.5M131.5,1066.3h-8M131.5,1039.5h-4.5M131.5,1120.6h-8M131.5,1093.8h-4.5M131.5,1174.6h-8M131.5,1147.8h-4.5M131.5,1228.4h-8M131.5,1201.6h-4.5M131.5,1282.8h-8M131.5,1256.0h-4.5" stroke="#a2a2a2" stroke-width="2" fill="none"/>
<text transform="translate(125.5,1328.5) scale(0.972,1)" font-size="36.5" text-anchor="middle" fill="#000" stroke="#000" stroke-width="0.8" >-0.5</text>
<text transform="translate(207.0,1328.5) scale(0.972,1)" font-size="36.5" text-anchor="middle" fill="#000" stroke="#000" stroke-width="0.8" >-0.4</text>
<text transform="translate(288.5,1328.5) scale(0.972,1)" font-size="36.5" text-anchor="middle" fill="#000" stroke="#000" stroke-width="0.8" >-0.3</text>
<text transform="translate(370.0,1328.5) scale(0.972,1)" font-size="36.5" text-anchor="middle" fill="#000" stroke="#000" stroke-width="0.8" >-0.2</text>
<text transform="translate(451.5,1328.5) scale(0.972,1)" font-size="36.5" text-anchor="middle" fill="#000" stroke="#000" stroke-width="0.8" >-0.1</text>
<text transform="translate(537.0,1328.5) scale(0.972,1)" font-size="36.5" text-anchor="middle" fill="#000" stroke="#000" stroke-width="0.8" >0</text>
<text transform="translate(618.5,1328.5) scale(0.972,1)" font-size="36.5" text-anchor="middle" fill="#000" stroke="#000" stroke-width="0.8" >0.1</text>
<text transform="translate(700.0,1328.5) scale(0.972,1)" font-size="36.5" text-anchor="middle" fill="#000" stroke="#000" stroke-width="0.8" >0.2</text>
<text transform="translate(781.5,1328.5) scale(0.972,1)" font-size="36.5" text-anchor="middle" fill="#000" stroke="#000" stroke-width="0.8" >0.3</text>
<text transform="translate(863.0,1328.5) scale(0.972,1)" font-size="36.5" text-anchor="middle" fill="#000" stroke="#000" stroke-width="0.8" >0.4</text>
<text transform="translate(115.0,861.3) scale(0.972,1)" font-size="36.5" text-anchor="end" fill="#000" stroke="#000" stroke-width="0.8" >0.6</text>
<text transform="translate(115.0,914.9) scale(0.972,1)" font-size="36.5" text-anchor="end" fill="#000" stroke="#000" stroke-width="0.8" >0.4</text>
<text transform="translate(115.0,969.1) scale(0.972,1)" font-size="36.5" text-anchor="end" fill="#000" stroke="#000" stroke-width="0.8" >0.2</text>
<text transform="translate(115.0,1023.3) scale(0.972,1)" font-size="36.5" text-anchor="end" fill="#000" stroke="#000" stroke-width="0.8" >0</text>
<text transform="translate(115.0,1077.6) scale(0.972,1)" font-size="36.5" text-anchor="end" fill="#000" stroke="#000" stroke-width="0.8" >-0.2</text>
<text transform="translate(115.0,1131.9) scale(0.972,1)" font-size="36.5" text-anchor="end" fill="#000" stroke="#000" stroke-width="0.8" >-0.4</text>
<text transform="translate(115.0,1185.9) scale(0.972,1)" font-size="36.5" text-anchor="end" fill="#000" stroke="#000" stroke-width="0.8" >-0.6</text>
<text transform="translate(115.0,1239.7) scale(0.972,1)" font-size="36.5" text-anchor="end" fill="#000" stroke="#000" stroke-width="0.8" >-0.8</text>
<text transform="translate(115.0,1294.1) scale(0.972,1)" font-size="36.5" text-anchor="end" fill="#000" stroke="#000" stroke-width="0.8" >-1</text>
<text transform="translate(524.0,1372.0) scale(0.985,1)" font-size="36" text-anchor="middle" fill="#000" stroke="#000" stroke-width="0.5" >1.03704 * tPS[1]</text>
<text transform="translate(31.5,1018.5) rotate(-90) scale(1.0,1)" font-size="35.5" text-anchor="middle" fill="#000" stroke="#000" stroke-width="0.5">1.14077 * t<tspan font-size="24" dy="7">0</tspan><tspan dy="-7">PS[1]</tspan></text>
<text transform="translate(177.0,838.0) scale(0.965,1)" font-size="42.7" text-anchor="start" fill="#000" stroke="#000" stroke-width="1.0" filter="url(#halo)">SMD</text>
<text transform="translate(845.0,841.0) scale(0.965,1)" font-size="42.7" text-anchor="start" fill="#000" stroke="#000" stroke-width="1.0" filter="url(#halo)">AD</text>
<text transform="translate(149.0,1268.0) scale(0.965,1)" font-size="42.7" text-anchor="start" fill="#000" stroke="#000" stroke-width="1.0" filter="url(#halo)">C</text>
<polygon points="731.0,986.3 741.5,1005.3 720.5,1005.3" fill="#0505ee" stroke="#000030" stroke-width="2.0" stroke-linejoin="miter"/>
<rect x="268.2" y="909.2" width="21.5" height="21.5" rx="0" fill="#0505ee" stroke="#000030" stroke-width="2.0"/>
<rect x="495.8" y="927.8" width="21.5" height="21.5" rx="0" fill="#0505ee" stroke="#000030" stroke-width="2.0"/>
<rect x="399.2" y="976.2" width="21.5" height="21.5" rx="0" fill="#0505ee" stroke="#000030" stroke-width="2.0"/>
<rect x="436.8" y="978.8" width="21.5" height="21.5" rx="0" fill="#0505ee" stroke="#000030" stroke-width="2.0"/>
<rect x="301.8" y="995.2" width="21.5" height="21.5" rx="0" fill="#0505ee" stroke="#000030" stroke-width="2.0"/>
<rect x="529.2" y="994.2" width="21.5" height="21.5" rx="0" fill="#0505ee" stroke="#000030" stroke-width="2.0"/>
<rect x="476.8" y="1000.2" width="21.5" height="21.5" rx="0" fill="#0505ee" stroke="#000030" stroke-width="2.0"/>
<rect x="381.8" y="1003.8" width="21.5" height="21.5" rx="0" fill="#0505ee" stroke="#000030" stroke-width="2.0"/>
<rect x="399.2" y="999.2" width="21.5" height="21.5" rx="0" fill="#0505ee" stroke="#000030" stroke-width="2.0"/>
<rect x="379.2" y="1013.8" width="21.5" height="21.5" rx="0" fill="#0505ee" stroke="#000030" stroke-width="2.0"/>
<rect x="391.8" y="1015.2" width="21.5" height="21.5" rx="0" fill="#0505ee" stroke="#000030" stroke-width="2.0"/>
<rect x="476.8" y="1010.2" width="21.5" height="21.5" rx="0" fill="#0505ee" stroke="#000030" stroke-width="2.0"/>
<rect x="509.2" y="1011.2" width="21.5" height="21.5" rx="0" fill="#0505ee" stroke="#000030" stroke-width="2.0"/>
<rect x="414.2" y="1025.2" width="21.5" height="21.5" rx="0" fill="#0505ee" stroke="#000030" stroke-width="2.0"/>
<rect x="421.8" y="1025.2" width="21.5" height="21.5" rx="0" fill="#0505ee" stroke="#000030" stroke-width="2.0"/>
<rect x="447.8" y="1025.2" width="21.5" height="21.5" rx="0" fill="#0505ee" stroke="#000030" stroke-width="2.0"/>
<rect x="486.8" y="1060.2" width="21.5" height="21.5" rx="0" fill="#0505ee" stroke="#000030" stroke-width="2.0"/>
<rect x="391.8" y="1076.8" width="21.5" height="21.5" rx="0" fill="#0505ee" stroke="#000030" stroke-width="2.0"/>
<rect x="675.8" y="849.2" width="21.5" height="21.5" rx="0" fill="#fb2b2b" stroke="#620e0e" stroke-width="2.0"/>
<rect x="571.8" y="885.8" width="21.5" height="21.5" rx="0" fill="#fb2b2b" stroke="#620e0e" stroke-width="2.0"/>
<rect x="647.2" y="908.8" width="21.5" height="21.5" rx="0" fill="#fb2b2b" stroke="#620e0e" stroke-width="2.0"/>
<rect x="600.2" y="921.8" width="21.5" height="21.5" rx="0" fill="#fb2b2b" stroke="#620e0e" stroke-width="2.0"/>
<rect x="729.2" y="928.2" width="21.5" height="21.5" rx="0" fill="#fb2b2b" stroke="#620e0e" stroke-width="2.0"/>
<rect x="632.8" y="943.8" width="21.5" height="21.5" rx="0" fill="#fb2b2b" stroke="#620e0e" stroke-width="2.0"/>
<rect x="515.2" y="959.2" width="21.5" height="21.5" rx="0" fill="#fb2b2b" stroke="#620e0e" stroke-width="2.0"/>
<rect x="675.8" y="962.8" width="21.5" height="21.5" rx="0" fill="#fb2b2b" stroke="#620e0e" stroke-width="2.0"/>
<rect x="631.8" y="966.8" width="21.5" height="21.5" rx="0" fill="#fb2b2b" stroke="#620e0e" stroke-width="2.0"/>
<rect x="579.2" y="981.2" width="21.5" height="21.5" rx="0" fill="#fb2b2b" stroke="#620e0e" stroke-width="2.0"/>
<rect x="707.8" y="995.2" width="21.5" height="21.5" rx="0" fill="#fb2b2b" stroke="#620e0e" stroke-width="2.0"/>
<rect x="737.8" y="1000.2" width="21.5" height="21.5" rx="0" fill="#fb2b2b" stroke="#620e0e" stroke-width="2.0"/>
<rect x="759.2" y="1008.2" width="21.5" height="21.5" rx="0" fill="#fb2b2b" stroke="#620e0e" stroke-width="2.0"/>
<rect x="651.8" y="1010.2" width="21.5" height="21.5" rx="0" fill="#fb2b2b" stroke="#620e0e" stroke-width="2.0"/>
<rect x="618.2" y="1023.8" width="21.5" height="21.5" rx="0" fill="#fb2b2b" stroke="#620e0e" stroke-width="2.0"/>
<rect x="651.8" y="1076.8" width="21.5" height="21.5" rx="0" fill="#fb2b2b" stroke="#620e0e" stroke-width="2.0"/>
<rect x="541.2" y="1082.8" width="21.5" height="21.5" rx="0" fill="#fb2b2b" stroke="#620e0e" stroke-width="2.0"/>
<rect x="784.2" y="1092.2" width="21.5" height="21.5" rx="0" fill="#fb2b2b" stroke="#620e0e" stroke-width="2.0"/>
<rect x="386.2" y="1115.2" width="21.5" height="21.5" rx="0" fill="#fb2b2b" stroke="#620e0e" stroke-width="2.0"/>
<rect x="565.2" y="1170.2" width="21.5" height="21.5" rx="0" fill="#fb2b2b" stroke="#620e0e" stroke-width="2.0"/>
<polygon points="528.5,898.3 539.0,917.3 518.0,917.3" fill="#0505ee" stroke="#000030" stroke-width="2.0" stroke-linejoin="miter"/>
<polygon points="452.5,944.8 463.0,963.8 442.0,963.8" fill="#0505ee" stroke="#000030" stroke-width="2.0" stroke-linejoin="miter"/>
<polygon points="480.0,968.3 490.5,987.3 469.5,987.3" fill="#0505ee" stroke="#000030" stroke-width="2.0" stroke-linejoin="miter"/>
<polygon points="435.0,984.8 445.5,1003.8 424.5,1003.8" fill="#0505ee" stroke="#000030" stroke-width="2.0" stroke-linejoin="miter"/>
<polygon points="422.5,993.3 433.0,1012.3 412.0,1012.3" fill="#0505ee" stroke="#000030" stroke-width="2.0" stroke-linejoin="miter"/>
<polygon points="435.0,1000.8 445.5,1019.8 424.5,1019.8" fill="#0505ee" stroke="#000030" stroke-width="2.0" stroke-linejoin="miter"/>
<polygon points="487.5,990.8 498.0,1009.8 477.0,1009.8" fill="#0505ee" stroke="#000030" stroke-width="2.0" stroke-linejoin="miter"/>
<polygon points="412.5,1008.3 423.0,1027.3 402.0,1027.3" fill="#0505ee" stroke="#000030" stroke-width="2.0" stroke-linejoin="miter"/>
<polygon points="345.0,1031.8 355.5,1050.8 334.5,1050.8" fill="#0505ee" stroke="#000030" stroke-width="2.0" stroke-linejoin="miter"/>
<polygon points="500.0,1023.3 510.5,1042.3 489.5,1042.3" fill="#0505ee" stroke="#000030" stroke-width="2.0" stroke-linejoin="miter"/>
<polygon points="522.5,1023.3 533.0,1042.3 512.0,1042.3" fill="#0505ee" stroke="#000030" stroke-width="2.0" stroke-linejoin="miter"/>
<polygon points="546.0,1025.8 556.5,1044.8 535.5,1044.8" fill="#0505ee" stroke="#000030" stroke-width="2.0" stroke-linejoin="miter"/>
<polygon points="557.5,1056.8 568.0,1075.8 547.0,1075.8" fill="#0505ee" stroke="#000030" stroke-width="2.0" stroke-linejoin="miter"/>
<polygon points="388.5,1091.8 399.0,1110.8 378.0,1110.8" fill="#0505ee" stroke="#000030" stroke-width="2.0" stroke-linejoin="miter"/>
<polygon points="530.0,1010.8 540.5,1029.8 519.5,1029.8" fill="#0505ee" stroke="#000030" stroke-width="2.0" stroke-linejoin="miter"/>
<polygon points="620.5,851.8 631.0,870.8 610.0,870.8" fill="#fb2b2b" stroke="#620e0e" stroke-width="2.0" stroke-linejoin="miter"/>
<polygon points="548.5,879.8 559.0,898.8 538.0,898.8" fill="#fb2b2b" stroke="#620e0e" stroke-width="2.0" stroke-linejoin="miter"/>
<polygon points="543.5,890.8 554.0,909.8 533.0,909.8" fill="#fb2b2b" stroke="#620e0e" stroke-width="2.0" stroke-linejoin="miter"/>
<polygon points="635.5,878.8 646.0,897.8 625.0,897.8" fill="#fb2b2b" stroke="#620e0e" stroke-width="2.0" stroke-linejoin="miter"/>
<polygon points="577.0,917.3 587.5,936.3 566.5,936.3" fill="#fb2b2b" stroke="#620e0e" stroke-width="2.0" stroke-linejoin="miter"/>
<polygon points="632.5,936.3 643.0,955.3 622.0,955.3" fill="#fb2b2b" stroke="#620e0e" stroke-width="2.0" stroke-linejoin="miter"/>
<polygon points="704.0,934.8 714.5,953.8 693.5,953.8" fill="#fb2b2b" stroke="#620e0e" stroke-width="2.0" stroke-linejoin="miter"/>
<polygon points="527.5,941.8 538.0,960.8 517.0,960.8" fill="#fb2b2b" stroke="#620e0e" stroke-width="2.0" stroke-linejoin="miter"/>
<polygon points="553.5,944.3 564.0,963.3 543.0,963.3" fill="#fb2b2b" stroke="#620e0e" stroke-width="2.0" stroke-linejoin="miter"/>
<polygon points="489.0,948.3 499.5,967.3 478.5,967.3" fill="#fb2b2b" stroke="#620e0e" stroke-width="2.0" stroke-linejoin="miter"/>
<polygon points="629.0,974.8 639.5,993.8 618.5,993.8" fill="#fb2b2b" stroke="#620e0e" stroke-width="2.0" stroke-linejoin="miter"/>
<polygon points="575.0,1022.3 585.5,1041.3 564.5,1041.3" fill="#fb2b2b" stroke="#620e0e" stroke-width="2.0" stroke-linejoin="miter"/>
<polygon points="608.5,1024.3 619.0,1043.3 598.0,1043.3" fill="#fb2b2b" stroke="#620e0e" stroke-width="2.0" stroke-linejoin="miter"/>
<polygon points="506.0,1026.8 516.5,1045.8 495.5,1045.8" fill="#fb2b2b" stroke="#620e0e" stroke-width="2.0" stroke-linejoin="miter"/>
<polygon points="580.0,1046.8 590.5,1065.8 569.5,1065.8" fill="#fb2b2b" stroke="#620e0e" stroke-width="2.0" stroke-linejoin="miter"/>
<polygon points="628.5,1058.3 639.0,1077.3 618.0,1077.3" fill="#fb2b2b" stroke="#620e0e" stroke-width="2.0" stroke-linejoin="miter"/>
<polygon points="476.0,1150.8 486.5,1169.8 465.5,1169.8" fill="#fb2b2b" stroke="#620e0e" stroke-width="2.0" stroke-linejoin="miter"/>
<polygon points="577.0,1144.3 587.5,1163.3 566.5,1163.3" fill="#fb2b2b" stroke="#620e0e" stroke-width="2.0" stroke-linejoin="miter"/>
<rect x="135.2" y="701.8" width="24.5" height="24.5" rx="1.0" fill="#0808ee" stroke="#040470" stroke-width="2.2"/>
<rect x="135.2" y="734.8" width="24.5" height="24.5" rx="1.0" fill="#fa2828" stroke="#8e1616" stroke-width="2.2"/>
<polygon points="932.5,704.6 944.5,727.6 920.5,727.6" fill="#0808ee" stroke="#040470" stroke-width="2.2" stroke-linejoin="miter"/>
<polygon points="932.5,736.8 944.5,759.8 920.5,759.8" fill="#fa2828" stroke="#8e1616" stroke-width="2.2" stroke-linejoin="miter"/>
<text x="197.0" y="741.0" font-size="36.5" text-anchor="start" fill="#000" stroke="#000" stroke-width="0.8" >test</text>
<text x="723.0" y="741.0" font-size="36.5" text-anchor="start" fill="#000" stroke="#000" stroke-width="0.8" >prediction</text>
</g>
<g id="panelD">
<rect x="1127" y="801" width="818" height="479.5" fill="#f4f4f4"/>
<path d="M1208.8,801V1280.5M1290.7,801V1280.5M1372.5,801V1280.5M1454.4,801V1280.5M1618.1,801V1280.5M1699.9,801V1280.5M1781.8,801V1280.5M1863.7,801V1280.5M1127,849.3H1945M1127,897.0H1945M1127,944.0H1945M1127,992.0H1945M1127,1088.3H1945M1127,1136.0H1945M1127,1184.3H1945M1127,1232.2H1945" stroke="#ffffff" stroke-width="6" fill="none" opacity="0.6"/>
<path d="M1208.8,801V1280.5M1290.7,801V1280.5M1372.5,801V1280.5M1454.4,801V1280.5M1618.1,801V1280.5M1699.9,801V1280.5M1781.8,801V1280.5M1863.7,801V1280.5M1127,849.3H1945M1127,897.0H1945M1127,944.0H1945M1127,992.0H1945M1127,1088.3H1945M1127,1136.0H1945M1127,1184.3H1945M1127,1232.2H1945" stroke="#e3e3e3" stroke-width="2.4" fill="none"/>
<clipPath id="clipD"><ellipse cx="1535.5" cy="1040.5" rx="372" ry="187"/></clipPath>
<ellipse cx="1535.5" cy="1040.5" rx="372" ry="187" fill="#ffffff" stroke="#c0c0c0" stroke-width="2"/>
<path d="M1208.8,801V1280.5M1290.7,801V1280.5M1372.5,801V1280.5M1454.4,801V1280.5M1618.1,801V1280.5M1699.9,801V1280.5M1781.8,801V1280.5M1863.7,801V1280.5M1127,849.3H1945M1127,897.0H1945M1127,944.0H1945M1127,992.0H1945M1127,1088.3H1945M1127,1136.0H1945M1127,1184.3H1945M1127,1232.2H1945" stroke="#efefef" stroke-width="2.4" fill="none" clip-path="url(#clipD)"/>
<path d="M1536.5,801V1280.5M1127,1040H1945" stroke="#a6a6a6" stroke-width="2.4" fill="none"/>
<path d="M1127,815V1280.5H1931" stroke="#a2a2a2" stroke-width="3.4" fill="none"/>
<polygon points="1127,802 1131.6,819.5 1122.4,819.5" fill="#5c5c5c"/>
<polygon points="1944.5,1280.5 1927,1275.7 1927,1285.3" fill="#5c5c5c"/>
<path d="M1127.0,1280.5v8M1167.9,1280.5v4.5M1208.8,1280.5v8M1249.8,1280.5v4.5M1290.7,1280.5v8M1331.6,1280.5v4.5M1372.5,1280.5v8M1413.5,1280.5v4.5M1454.4,1280.5v8M1495.3,1280.5v4.5M1536.2,1280.5v8M1577.2,1280.5v4.5M1618.1,1280.5v8M1659.0,1280.5v4.5M1699.9,1280.5v8M1740.9,1280.5v4.5M1781.8,1280.5v8M1822.7,1280.5v4.5M1863.7,1280.5v8M1904.6,1280.5v4.5M1127,849.3h-8M1127,825.4h-4.5M1127,897.0h-8M1127,873.1h-4.5M1127,944.0h-8M1127,920.1h-4.5M1127,992.0h-8M1127,968.1h-4.5M1127,1040.0h-8M1127,1016.1h-4.5M1127,1088.3h-8M1127,1064.4h-4.5M1127,1136.0h-8M1127,1112.2h-4.5M1127,1184.3h-8M1127,1160.4h-4.5M1127,1232.2h-8M1127,1208.3h-4.5M1127,1280.5h-8M1127,1256.7h-4.5" stroke="#a2a2a2" stroke-width="2" fill="none"/>
<text transform="translate(1122.5,1328.0) scale(0.972,1)" font-size="36.5" text-anchor="middle" fill="#000" stroke="#000" stroke-width="0.8" >-0.5</text>
<text transform="translate(1204.3,1328.0) scale(0.972,1)" font-size="36.5" text-anchor="middle" fill="#000" stroke="#000" stroke-width="0.8" >-0.4</text>
<text transform="translate(1286.2,1328.0) scale(0.972,1)" font-size="36.5" text-anchor="middle" fill="#000" stroke="#000" stroke-width="0.8" >-0.3</text>
<text transform="translate(1368.0,1328.0) scale(0.972,1)" font-size="36.5" text-anchor="middle" fill="#000" stroke="#000" stroke-width="0.8" >-0.2</text>
<text transform="translate(1449.9,1328.0) scale(0.972,1)" font-size="36.5" text-anchor="middle" fill="#000" stroke="#000" stroke-width="0.8" >-0.1</text>
<text transform="translate(1535.8,1328.0) scale(0.972,1)" font-size="36.5" text-anchor="middle" fill="#000" stroke="#000" stroke-width="0.8" >0</text>
<text transform="translate(1617.6,1328.0) scale(0.972,1)" font-size="36.5" text-anchor="middle" fill="#000" stroke="#000" stroke-width="0.8" >0.1</text>
<text transform="translate(1699.4,1328.0) scale(0.972,1)" font-size="36.5" text-anchor="middle" fill="#000" stroke="#000" stroke-width="0.8" >0.2</text>
<text transform="translate(1781.3,1328.0) scale(0.972,1)" font-size="36.5" text-anchor="middle" fill="#000" stroke="#000" stroke-width="0.8" >0.3</text>
<text transform="translate(1863.2,1328.0) scale(0.972,1)" font-size="36.5" text-anchor="middle" fill="#000" stroke="#000" stroke-width="0.8" >0.4</text>
<text transform="translate(1114.0,859.8) scale(0.972,1)" font-size="36.5" text-anchor="end" fill="#000" stroke="#000" stroke-width="0.8" >0.8</text>
<text transform="translate(1114.0,907.5) scale(0.972,1)" font-size="36.5" text-anchor="end" fill="#000" stroke="#000" stroke-width="0.8" >0.6</text>
<text transform="translate(1114.0,954.5) scale(0.972,1)" font-size="36.5" text-anchor="end" fill="#000" stroke="#000" stroke-width="0.8" >0.4</text>
<text transform="translate(1114.0,1002.5) scale(0.972,1)" font-size="36.5" text-anchor="end" fill="#000" stroke="#000" stroke-width="0.8" >0.2</text>
<text transform="translate(1114.0,1050.5) scale(0.972,1)" font-size="36.5" text-anchor="end" fill="#000" stroke="#000" stroke-width="0.8" >0</text>
<text transform="translate(1114.0,1098.8) scale(0.972,1)" font-size="36.5" text-anchor="end" fill="#000" stroke="#000" stroke-width="0.8" >0.2</text>
<text transform="translate(1114.0,1146.5) scale(0.972,1)" font-size="36.5" text-anchor="end" fill="#000" stroke="#000" stroke-width="0.8" >0.4</text>
<text transform="translate(1114.0,1194.8) scale(0.972,1)" font-size="36.5" text-anchor="end" fill="#000" stroke="#000" stroke-width="0.8" >0.6</text>
<text transform="translate(1114.0,1242.7) scale(0.972,1)" font-size="36.5" text-anchor="end" fill="#000" stroke="#000" stroke-width="0.8" >-0.8</text>
<text transform="translate(1114.0,1291.0) scale(0.972,1)" font-size="36.5" text-anchor="end" fill="#000" stroke="#000" stroke-width="0.8" >-1</text>
<text transform="translate(1522.0,1370.0) scale(0.985,1)" font-size="36" text-anchor="middle" fill="#000" stroke="#000" stroke-width="0.5" >1.04267 * tPS[1]</text>
<text transform="translate(1029,1045.8) rotate(-90) scale(1.0,1)" font-size="35.5" text-anchor="middle" fill="#000" stroke="#000" stroke-width="0.5">1.28881 * t<tspan font-size="24" dy="7">0</tspan><tspan dy="-7">PS[1]</tspan></text>
<text x="1163.0" y="840.0" font-size="42.7" text-anchor="start" fill="#000" stroke="#000" stroke-width="1.0" filter="url(#halo)">MCI</text>
<text transform="translate(1822.0,841.0) scale(0.965,1)" font-size="42.7" text-anchor="start" fill="#000" stroke="#000" stroke-width="1.0" filter="url(#halo)">AD</text>
<text transform="translate(1146.0,1266.0) scale(0.965,1)" font-size="42.7" text-anchor="start" fill="#000" stroke="#000" stroke-width="1.0" filter="url(#halo)">D</text>
<rect x="1542.2" y="870.2" width="16.5" height="16.5" rx="0" fill="#7e0c82" stroke="#2c0030" stroke-width="2.0"/>
<rect x="1450.8" y="956.8" width="16.5" height="16.5" rx="0" fill="#7e0c82" stroke="#2c0030" stroke-width="2.0"/>
<rect x="1415.8" y="975.8" width="16.5" height="16.5" rx="0" fill="#7e0c82" stroke="#2c0030" stroke-width="2.0"/>
<rect x="1333.2" y="986.8" width="16.5" height="16.5" rx="0" fill="#7e0c82" stroke="#2c0030" stroke-width="2.0"/>
<rect x="1372.8" y="986.2" width="16.5" height="16.5" rx="0" fill="#7e0c82" stroke="#2c0030" stroke-width="2.0"/>
<rect x="1474.2" y="993.8" width="16.5" height="16.5" rx="0" fill="#7e0c82" stroke="#2c0030" stroke-width="2.0"/>
<rect x="1475.8" y="1006.2" width="16.5" height="16.5" rx="0" fill="#7e0c82" stroke="#2c0030" stroke-width="2.0"/>
<rect x="1317.8" y="1011.8" width="16.5" height="16.5" rx="0" fill="#7e0c82" stroke="#2c0030" stroke-width="2.0"/>
<rect x="1424.2" y="1020.8" width="16.5" height="16.5" rx="0" fill="#7e0c82" stroke="#2c0030" stroke-width="2.0"/>
<rect x="1341.8" y="1031.8" width="16.5" height="16.5" rx="0" fill="#7e0c82" stroke="#2c0030" stroke-width="2.0"/>
<rect x="1396.8" y="1037.8" width="16.5" height="16.5" rx="0" fill="#7e0c82" stroke="#2c0030" stroke-width="2.0"/>
<rect x="1482.8" y="1049.8" width="16.5" height="16.5" rx="0" fill="#7e0c82" stroke="#2c0030" stroke-width="2.0"/>
<rect x="1344.8" y="1058.8" width="16.5" height="16.5" rx="0" fill="#7e0c82" stroke="#2c0030" stroke-width="2.0"/>
<rect x="1501.8" y="1076.8" width="16.5" height="16.5" rx="0" fill="#7e0c82" stroke="#2c0030" stroke-width="2.0"/>
<rect x="1385.2" y="1083.2" width="16.5" height="16.5" rx="0" fill="#7e0c82" stroke="#2c0030" stroke-width="2.0"/>
<rect x="1323.2" y="1091.2" width="16.5" height="16.5" rx="0" fill="#7e0c82" stroke="#2c0030" stroke-width="2.0"/>
<rect x="1419.2" y="1097.8" width="16.5" height="16.5" rx="0" fill="#7e0c82" stroke="#2c0030" stroke-width="2.0"/>
<rect x="1335.2" y="1111.8" width="16.5" height="16.5" rx="0" fill="#7e0c82" stroke="#2c0030" stroke-width="2.0"/>
<rect x="1386.8" y="1146.8" width="16.5" height="16.5" rx="0" fill="#7e0c82" stroke="#2c0030" stroke-width="2.0"/>
<rect x="1474.2" y="1156.8" width="16.5" height="16.5" rx="0" fill="#7e0c82" stroke="#2c0030" stroke-width="2.0"/>
<rect x="1544.2" y="918.2" width="16.5" height="16.5" rx="0" fill="#fb2b2b" stroke="#620e0e" stroke-width="2.0"/>
<rect x="1511.8" y="946.2" width="16.5" height="16.5" rx="0" fill="#fb2b2b" stroke="#620e0e" stroke-width="2.0"/>
<rect x="1616.8" y="956.8" width="16.5" height="16.5" rx="0" fill="#fb2b2b" stroke="#620e0e" stroke-width="2.0"/>
<rect x="1617.8" y="972.8" width="16.5" height="16.5" rx="0" fill="#fb2b2b" stroke="#620e0e" stroke-width="2.0"/>
<rect x="1572.2" y="974.2" width="16.5" height="16.5" rx="0" fill="#fb2b2b" stroke="#620e0e" stroke-width="2.0"/>
<rect x="1670.8" y="1002.8" width="16.5" height="16.5" rx="0" fill="#fb2b2b" stroke="#620e0e" stroke-width="2.0"/>
<rect x="1679.2" y="987.2" width="16.5" height="16.5" rx="0" fill="#fb2b2b" stroke="#620e0e" stroke-width="2.0"/>
<rect x="1659.2" y="993.8" width="16.5" height="16.5" rx="0" fill="#fb2b2b" stroke="#620e0e" stroke-width="2.0"/>
<rect x="1496.8" y="1006.2" width="16.5" height="16.5" rx="0" fill="#fb2b2b" stroke="#620e0e" stroke-width="2.0"/>
<rect x="1724.8" y="1014.2" width="16.5" height="16.5" rx="0" fill="#fb2b2b" stroke="#620e0e" stroke-width="2.0"/>
<rect x="1798.2" y="1019.2" width="16.5" height="16.5" rx="0" fill="#fb2b2b" stroke="#620e0e" stroke-width="2.0"/>
<rect x="1537.2" y="1020.8" width="16.5" height="16.5" rx="0" fill="#fb2b2b" stroke="#620e0e" stroke-width="2.0"/>
<rect x="1693.2" y="1038.8" width="16.5" height="16.5" rx="0" fill="#fb2b2b" stroke="#620e0e" stroke-width="2.0"/>
<rect x="1495.8" y="1041.8" width="16.5" height="16.5" rx="0" fill="#fb2b2b" stroke="#620e0e" stroke-width="2.0"/>
<rect x="1662.8" y="1046.2" width="16.5" height="16.5" rx="0" fill="#fb2b2b" stroke="#620e0e" stroke-width="2.0"/>
<rect x="1747.8" y="1046.2" width="16.5" height="16.5" rx="0" fill="#fb2b2b" stroke="#620e0e" stroke-width="2.0"/>
<rect x="1686.8" y="1086.8" width="16.5" height="16.5" rx="0" fill="#fb2b2b" stroke="#620e0e" stroke-width="2.0"/>
<rect x="1585.2" y="1108.8" width="16.5" height="16.5" rx="0" fill="#fb2b2b" stroke="#620e0e" stroke-width="2.0"/>
<rect x="1504.2" y="1125.2" width="16.5" height="16.5" rx="0" fill="#fb2b2b" stroke="#620e0e" stroke-width="2.0"/>
<rect x="1788.8" y="1144.2" width="16.5" height="16.5" rx="0" fill="#fb2b2b" stroke="#620e0e" stroke-width="2.0"/>
<rect x="1676.8" y="1185.2" width="16.5" height="16.5" rx="0" fill="#fb2b2b" stroke="#620e0e" stroke-width="2.0"/>
<polygon points="1561.5,845.5 1569.8,860.0 1553.2,860.0" fill="#7e0c82" stroke="#2c0030" stroke-width="2.0" stroke-linejoin="miter"/>
<polygon points="1465.0,974.0 1473.2,988.5 1456.8,988.5" fill="#7e0c82" stroke="#2c0030" stroke-width="2.0" stroke-linejoin="miter"/>
<polygon points="1543.5,981.5 1551.8,996.0 1535.2,996.0" fill="#7e0c82" stroke="#2c0030" stroke-width="2.0" stroke-linejoin="miter"/>
<polygon points="1399.0,1010.5 1407.2,1025.0 1390.8,1025.0" fill="#7e0c82" stroke="#2c0030" stroke-width="2.0" stroke-linejoin="miter"/>
<polygon points="1488.0,1024.0 1496.2,1038.5 1479.8,1038.5" fill="#7e0c82" stroke="#2c0030" stroke-width="2.0" stroke-linejoin="miter"/>
<polygon points="1666.0,1018.0 1674.2,1032.5 1657.8,1032.5" fill="#7e0c82" stroke="#2c0030" stroke-width="2.0" stroke-linejoin="miter"/>
<polygon points="1415.0,1032.0 1423.2,1046.5 1406.8,1046.5" fill="#7e0c82" stroke="#2c0030" stroke-width="2.0" stroke-linejoin="miter"/>
<polygon points="1377.5,1045.5 1385.8,1060.0 1369.2,1060.0" fill="#7e0c82" stroke="#2c0030" stroke-width="2.0" stroke-linejoin="miter"/>
<polygon points="1382.5,1050.5 1390.8,1065.0 1374.2,1065.0" fill="#7e0c82" stroke="#2c0030" stroke-width="2.0" stroke-linejoin="miter"/>
<polygon points="1450.0,1055.5 1458.2,1070.0 1441.8,1070.0" fill="#7e0c82" stroke="#2c0030" stroke-width="2.0" stroke-linejoin="miter"/>
<polygon points="1467.5,1053.0 1475.8,1067.5 1459.2,1067.5" fill="#7e0c82" stroke="#2c0030" stroke-width="2.0" stroke-linejoin="miter"/>
<polygon points="1421.5,1060.5 1429.8,1075.0 1413.2,1075.0" fill="#7e0c82" stroke="#2c0030" stroke-width="2.0" stroke-linejoin="miter"/>
<polygon points="1434.0,1078.0 1442.2,1092.5 1425.8,1092.5" fill="#7e0c82" stroke="#2c0030" stroke-width="2.0" stroke-linejoin="miter"/>
<polygon points="1437.5,1093.0 1445.8,1107.5 1429.2,1107.5" fill="#7e0c82" stroke="#2c0030" stroke-width="2.0" stroke-linejoin="miter"/>
<polygon points="1471.5,1109.5 1479.8,1124.0 1463.2,1124.0" fill="#7e0c82" stroke="#2c0030" stroke-width="2.0" stroke-linejoin="miter"/>
<polygon points="1520.0,1065.5 1528.2,1080.0 1511.8,1080.0" fill="#7e0c82" stroke="#2c0030" stroke-width="2.0" stroke-linejoin="miter"/>
<polygon points="1576.0,887.0 1584.2,901.5 1567.8,901.5" fill="#fb2b2b" stroke="#620e0e" stroke-width="2.0" stroke-linejoin="miter"/>
<polygon points="1489.0,931.5 1497.2,946.0 1480.8,946.0" fill="#fb2b2b" stroke="#620e0e" stroke-width="2.0" stroke-linejoin="miter"/>
<polygon points="1577.0,931.5 1585.2,946.0 1568.8,946.0" fill="#fb2b2b" stroke="#620e0e" stroke-width="2.0" stroke-linejoin="miter"/>
<polygon points="1578.0,950.5 1586.2,965.0 1569.8,965.0" fill="#fb2b2b" stroke="#620e0e" stroke-width="2.0" stroke-linejoin="miter"/>
<polygon points="1464.0,954.0 1472.2,968.5 1455.8,968.5" fill="#fb2b2b" stroke="#620e0e" stroke-width="2.0" stroke-linejoin="miter"/>
<polygon points="1737.5,963.0 1745.8,977.5 1729.2,977.5" fill="#fb2b2b" stroke="#620e0e" stroke-width="2.0" stroke-linejoin="miter"/>
<polygon points="1493.5,987.0 1501.8,1001.5 1485.2,1001.5" fill="#fb2b2b" stroke="#620e0e" stroke-width="2.0" stroke-linejoin="miter"/>
<polygon points="1548.5,987.0 1556.8,1001.5 1540.2,1001.5" fill="#fb2b2b" stroke="#620e0e" stroke-width="2.0" stroke-linejoin="miter"/>
<polygon points="1461.5,994.0 1469.8,1008.5 1453.2,1008.5" fill="#fb2b2b" stroke="#620e0e" stroke-width="2.0" stroke-linejoin="miter"/>
<polygon points="1506.0,1010.5 1514.2,1025.0 1497.8,1025.0" fill="#fb2b2b" stroke="#620e0e" stroke-width="2.0" stroke-linejoin="miter"/>
<polygon points="1591.0,1014.0 1599.2,1028.5 1582.8,1028.5" fill="#fb2b2b" stroke="#620e0e" stroke-width="2.0" stroke-linejoin="miter"/>
<polygon points="1649.0,1047.0 1657.2,1061.5 1640.8,1061.5" fill="#fb2b2b" stroke="#620e0e" stroke-width="2.0" stroke-linejoin="miter"/>
<polygon points="1538.5,1052.0 1546.8,1066.5 1530.2,1066.5" fill="#fb2b2b" stroke="#620e0e" stroke-width="2.0" stroke-linejoin="miter"/>
<polygon points="1517.5,1063.0 1525.8,1077.5 1509.2,1077.5" fill="#fb2b2b" stroke="#620e0e" stroke-width="2.0" stroke-linejoin="miter"/>
<polygon points="1605.0,1068.0 1613.2,1082.5 1596.8,1082.5" fill="#fb2b2b" stroke="#620e0e" stroke-width="2.0" stroke-linejoin="miter"/>
<polygon points="1666.0,1079.5 1674.2,1094.0 1657.8,1094.0" fill="#fb2b2b" stroke="#620e0e" stroke-width="2.0" stroke-linejoin="miter"/>
<polygon points="1492.5,1087.0 1500.8,1101.5 1484.2,1101.5" fill="#fb2b2b" stroke="#620e0e" stroke-width="2.0" stroke-linejoin="miter"/>
<polygon points="1619.0,1150.0 1627.2,1164.5 1610.8,1164.5" fill="#fb2b2b" stroke="#620e0e" stroke-width="2.0" stroke-linejoin="miter"/>
<polygon points="1605.0,1201.5 1613.2,1216.0 1596.8,1216.0" fill="#fb2b2b" stroke="#620e0e" stroke-width="2.0" stroke-linejoin="miter"/>
<rect x="1524.8" y="964.2" width="16.5" height="16.5" rx="0" fill="#7e0c82" stroke="#2c0030" stroke-width="2.0"/>
<rect x="1133.0" y="708.0" width="18.0" height="20.0" rx="1.0" fill="#7030a4" stroke="#30104e" stroke-width="2.2"/>
<rect x="1133.0" y="740.5" width="18.0" height="20.0" rx="1.0" fill="#fa2828" stroke="#8e1616" stroke-width="2.2"/>
<polygon points="1927.5,708.8 1937.2,726.8 1917.8,726.8" fill="#7030a4" stroke="#30104e" stroke-width="2.2" stroke-linejoin="miter"/>
<polygon points="1927.5,743.8 1937.2,761.8 1917.8,761.8" fill="#fa2828" stroke="#8e1616" stroke-width="2.2" stroke-linejoin="miter"/>
<text x="1190.3" y="742.0" font-size="36.5" text-anchor="start" fill="#000" stroke="#000" stroke-width="0.8" >test</text>
<text x="1719.0" y="742.0" font-size="36.5" text-anchor="start" fill="#000" stroke="#000" stroke-width="0.8" >prediction</text>
</g>
<path d="M1995,722V1400" stroke="#e9e9e9" stroke-width="3" fill="none"/>
</svg></body></html>
